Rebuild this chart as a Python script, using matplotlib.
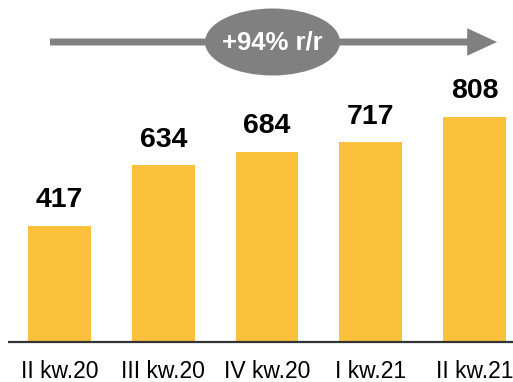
import matplotlib.pyplot as plt
from matplotlib.patches import Ellipse

plt.rcParams['font.family'] = ['Liberation Sans', 'DejaVu Sans']

# data
quarters = ['II kw.20', 'III kw.20', 'IV kw.20', 'I kw.21', 'II kw.21']
values = [417, 634, 684, 717, 808]
growth_label = '+94% r/r'

BAR_COLOR = '#FBC13D'
GREY = '#808080'

fig = plt.figure(figsize=(5.13, 3.82), dpi=100)
ax = fig.add_axes([0, 0, 1, 1])

x = range(len(quarters))
ax.bar(x, values, width=0.607, color=BAR_COLOR)

for xi, v in zip(x, values):
    ax.annotate(str(v), (xi, v), xytext=(0, 9), textcoords='offset points',
                ha='center', va='bottom', fontsize=20.5, fontweight='bold')

# baseline
ax.plot([-0.5, 4.4], [0, 0], color='#333333', lw=1.6, solid_capstyle='butt')

ax.set_xlim(-0.5735, 4.371)
ax.set_ylim(-143.6, 1228)
ax.set_xticks(list(x))
ax.set_xticklabels(quarters, fontsize=16.5)
ax.tick_params(axis='x', length=0, pad=-16)
ax.set_yticks([])
for s in ax.spines.values():
    s.set_visible(False)
ax.patch.set_visible(False)

# growth arrow across the top
ax.annotate('', xy=(497, 340), xytext=(50, 340),
            xycoords='figure pixels', textcoords='figure pixels',
            arrowprops=dict(arrowstyle='-|>,head_length=1.3,head_width=0.6',
                            color=GREY, lw=5, shrinkA=0, shrinkB=0,
                            capstyle='butt', joinstyle='miter'))
ell = Ellipse((2.725, 3.40), 1.35, 0.67, transform=fig.dpi_scale_trans,
              facecolor=GREY, edgecolor='none')
fig.patches.append(ell)
fig.text(2.725 / 5.13, 3.40 / 3.82, growth_label, ha='center', va='center',
         color='white', fontsize=18.5, fontweight='bold')

fig.savefig('out.png', dpi=100)
